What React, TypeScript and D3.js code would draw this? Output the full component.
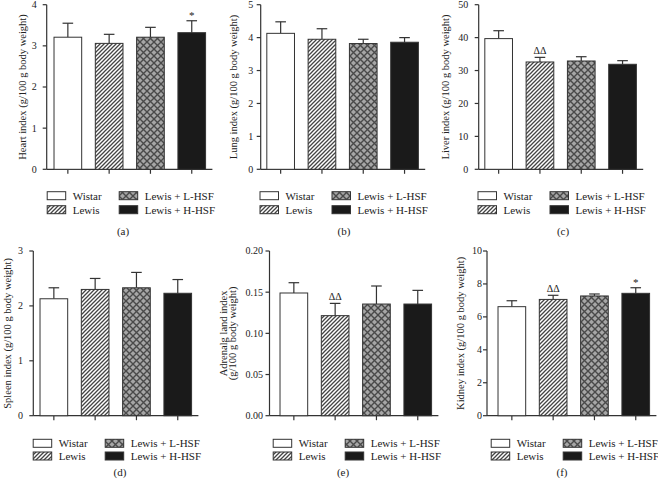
import React from "react";
import * as d3 from "d3";

const groups = ["Wistar", "Lewis", "Lewis + L-HSF", "Lewis + H-HSF"];

const heartMean = [3.21, 3.06, 3.21, 3.32];
const heartSd = [0.34, 0.22, 0.24, 0.29];
const heartMarks = ["", "", "", "*"];
const heartTicks = [0, 1, 2, 3, 4];

const lungMean = [4.13, 3.95, 3.82, 3.86];
const lungSd = [0.35, 0.32, 0.13, 0.14];
const lungMarks = ["", "", "", ""];
const lungTicks = [0, 1, 2, 3, 4, 5];

const liverMean = [39.7, 32.6, 32.9, 31.9];
const liverSd = [2.4, 1.4, 1.3, 1.1];
const liverMarks = ["", "ΔΔ", "", ""];
const liverTicks = [0, 10, 20, 30, 40, 50];

const spleenMean = [2.13, 2.3, 2.33, 2.23];
const spleenSd = [0.2, 0.2, 0.28, 0.25];
const spleenMarks = ["", "", "", ""];
const spleenTicks = [0, 1, 2, 3];

const adrenalMean = [0.149, 0.1215, 0.1356, 0.1356];
const adrenalSd = [0.0125, 0.0149, 0.0219, 0.0166];
const adrenalMarks = ["", "ΔΔ", "", ""];
const adrenalTicks = [0, 0.05, 0.1, 0.15, 0.2];

const kidneyMean = [6.62, 7.06, 7.27, 7.43];
const kidneySd = [0.36, 0.25, 0.12, 0.34];
const kidneyMarks = ["", "ΔΔ", "", "*"];
const kidneyTicks = [0, 2, 4, 6, 8, 10];

const panelLetters = ["(a)", "(b)", "(c)", "(d)", "(e)", "(f)"];

const FONT = "'Liberation Serif', 'Times New Roman', serif";
const INK = "#333";
const fills = ["#ffffff", "url(#hatch)", "url(#cross)", "#1a1a1a"];

type Panel = {
  mean: number[];
  sd: number[];
  marks: string[];
  ticks: number[];
  fmt: (v: number) => string;
  label: string[];
  letter: string;
  axisX: number;
  bandStart: number;
  labelX: number[];
  tickGap: number;
  row: number;
  letterX: number;
};

const rows = [
  { top: 4.7, bottom: 169.3, legendY: 191.7, legendStep: 14, letterY: 235 },
  { top: 251, bottom: 415.7, legendY: 439.3, legendStep: 12.7, letterY: 476 },
];

const intFmt = d3.format("d");

const panels: Panel[] = [
  { mean: heartMean, sd: heartSd, marks: heartMarks, ticks: heartTicks, fmt: intFmt,
    label: ["Heart index (g/100 g body weight)"], letter: panelLetters[0],
    axisX: 46.7, bandStart: 47.2, labelX: [22.5], tickGap: 10, row: 0, letterX: 123 },
  { mean: lungMean, sd: lungSd, marks: lungMarks, ticks: lungTicks, fmt: intFmt,
    label: ["Lung index (g/100 g body weight)"], letter: panelLetters[1],
    axisX: 260.7, bandStart: 260, labelX: [233.5], tickGap: 7.5, row: 0, letterX: 344 },
  { mean: liverMean, sd: liverSd, marks: liverMarks, ticks: liverTicks, fmt: intFmt,
    label: ["Liver index (g/100 g body weight)"], letter: panelLetters[2],
    axisX: 478.7, bandStart: 478, labelX: [445.5], tickGap: 10.5, row: 0, letterX: 563 },
  { mean: spleenMean, sd: spleenSd, marks: spleenMarks, ticks: spleenTicks, fmt: intFmt,
    label: ["Spleen index (g/100 g body weight)"], letter: panelLetters[3],
    axisX: 33.3, bandStart: 33.2, labelX: [7], tickGap: 10.3, row: 1, letterX: 120 },
  { mean: adrenalMean, sd: adrenalSd, marks: adrenalMarks, ticks: adrenalTicks, fmt: d3.format(".2f"),
    label: ["Adrenalg land index", "(g/100 g body weight)"], letter: panelLetters[4],
    axisX: 269.5, bandStart: 273.2, labelX: [223.7, 232.5], tickGap: 6.5, row: 1, letterX: 343 },
  { mean: kidneyMean, sd: kidneySd, marks: kidneyMarks, ticks: kidneyTicks, fmt: intFmt,
    label: ["Kidney index (g/100 g body weight)"], letter: panelLetters[5],
    axisX: 487, bandStart: 491.2, labelX: [460.5], tickGap: 5, row: 1, letterX: 562 },
];

function PanelView({ p }: { p: Panel }) {
  const r = rows[p.row];
  const maxV = p.ticks[p.ticks.length - 1];
  const y = d3.scaleLinear().domain([0, maxV]).range([r.bottom, r.top]);
  const x = d3
    .scaleBand<string>()
    .domain(groups)
    .range([p.bandStart, p.bandStart + 165.2])
    .paddingInner(0.33)
    .paddingOuter(0.165);
  const bw = x.bandwidth();
  const midY = (r.top + r.bottom) / 2;
  return (
    <g>
      {/* y axis */}
      <line x1={p.axisX} x2={p.axisX} y1={r.top} y2={r.bottom} stroke={INK} strokeWidth={1.2} />
      {p.ticks.map((t) => (
        <g key={t}>
          <line x1={p.axisX - 4} x2={p.axisX} y1={y(t)} y2={y(t)} stroke={INK} strokeWidth={1.2} />
          <text x={p.axisX - p.tickGap} y={y(t)} dy="0.34em" textAnchor="end" fontSize={10} fill="#222" fontFamily={FONT}>
            {p.fmt(t)}
          </text>
        </g>
      ))}
      {/* x axis */}
      <line x1={p.axisX} x2={p.bandStart + 165.2} y1={r.bottom} y2={r.bottom} stroke={INK} strokeWidth={1.2} />
      {groups.map((g) => (
        <line key={g} x1={x(g)! + bw / 2} x2={x(g)! + bw / 2} y1={r.bottom} y2={r.bottom + 4.5} stroke={INK} strokeWidth={1.2} />
      ))}
      {/* bars */}
      {groups.map((g, i) => {
        const cx = x(g)! + bw / 2;
        const top = y(p.mean[i] + p.sd[i]);
        return (
          <g key={g}>
            <line x1={cx} x2={cx} y1={y(p.mean[i])} y2={top} stroke={INK} strokeWidth={1.2} />
            <line x1={cx - 5.3} x2={cx + 5.3} y1={top} y2={top} stroke={INK} strokeWidth={1.2} />
            <rect x={x(g)!} y={y(p.mean[i])} width={bw} height={r.bottom - y(p.mean[i])}
              fill={fills[i]} stroke={INK} strokeWidth={1} />
            {p.marks[i] ? (
              <text x={cx} y={top - (p.marks[i] === "*" ? 1.5 : 3.7)} textAnchor="middle"
                fontSize={p.marks[i] === "*" ? 11 : 10} fill="#222" fontFamily={FONT}>
                {p.marks[i]}
              </text>
            ) : null}
          </g>
        );
      })}
      {/* y label */}
      {p.label.map((s, k) => (
        <text key={k} transform={`translate(${p.labelX[k]},${midY}) rotate(-90)`} textAnchor="middle"
          dominantBaseline="central" fontSize={10.5} fill="#222" fontFamily={FONT}>
          {s}
        </text>
      ))}
      {/* legend */}
      {groups.map((g, i) => {
        const col = Math.floor(i / 2);
        const rw = i % 2;
        const lx = p.bandStart + col * 72;
        const ly = r.legendY + rw * r.legendStep;
        return (
          <g key={g}>
            <rect x={lx} y={ly} width={18.5} height={8} fill={fills[i]} stroke={INK} strokeWidth={1} />
            <text x={lx + 25.5} y={ly + 4} dy="0.35em" fontSize={11} fill="#222" fontFamily={FONT}>
              {g}
            </text>
          </g>
        );
      })}
      <text x={p.letterX} y={r.letterY} textAnchor="middle" fontSize={11} fill="#222" fontFamily={FONT}>
        {p.letter}
      </text>
    </g>
  );
}

export default function App() {
  return (
    <svg width={658} height={483} style={{ position: "absolute", left: 0, top: 0, background: "#fff" }}>
      <defs>
        <pattern id="hatch" patternUnits="userSpaceOnUse" width={4} height={4}>
          <rect width={4} height={4} fill="#fff" />
          <path d="M-1,1 l2,-2 M0,4 l4,-4 M3,5 l2,-2" stroke="#444" strokeWidth={1.3} />
        </pattern>
        <pattern id="cross" patternUnits="userSpaceOnUse" width={7} height={7}>
          <rect width={7} height={7} fill="#a6a6a6" />
          <path d="M0,0 L7,7 M7,0 L0,7" stroke="#4a4a4a" strokeWidth={1.4} />
        </pattern>
      </defs>
      {panels.map((p, i) => (
        <PanelView key={i} p={p} />
      ))}
    </svg>
  );
}
